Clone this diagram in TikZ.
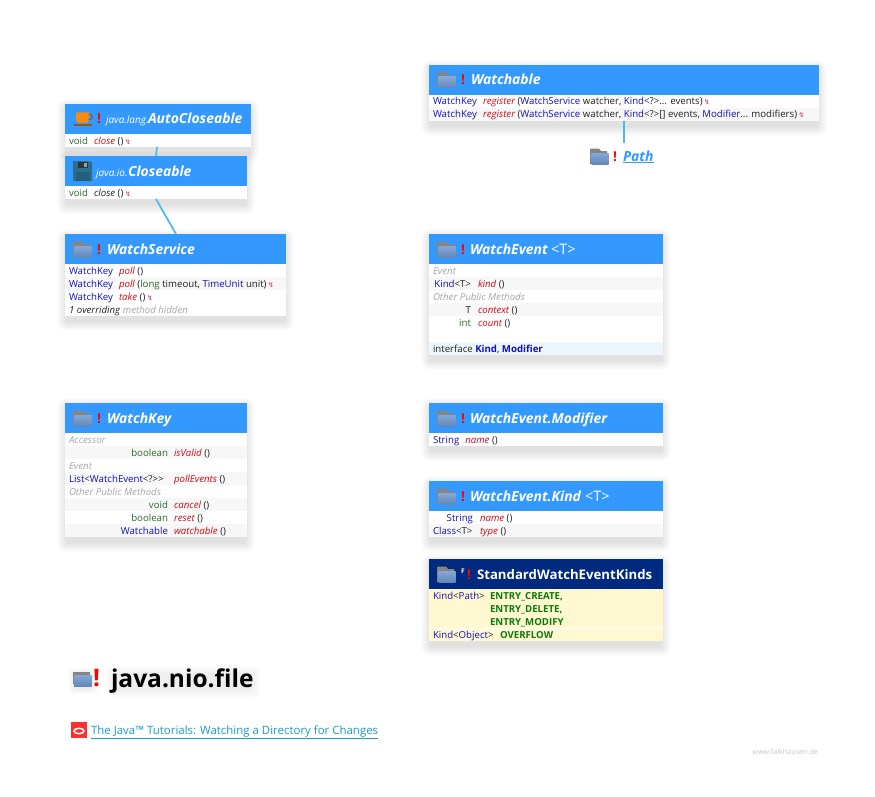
\documentclass[tikz,border=0pt]{standalone}
\usepackage{fontspec}
\setmainfont{Open Sans}
\newfontfamily\dv{DejaVu Sans}
\usetikzlibrary{calc}
\definecolor{hdr}{HTML}{3399FF}
\definecolor{navy}{HTML}{002A80}
\definecolor{typ}{HTML}{1010C0}
\definecolor{meth}{HTML}{CC0A14}
\definecolor{prim}{HTML}{2B6B2B}
\definecolor{txt}{HTML}{222222}
\definecolor{hid}{HTML}{A6A6A6}
\definecolor{rowbg}{HTML}{F7F7F7}
\definecolor{conn}{HTML}{4DB8EE}
\definecolor{cream}{HTML}{FFF8D0}
\definecolor{constc}{HTML}{0A7A0A}
\definecolor{ifbg}{HTML}{EEF6FD}
\definecolor{linkc}{HTML}{1C9DC9}
\definecolor{folderb}{HTML}{6E98CF}
\definecolor{folderd}{HTML}{858585}
\definecolor{floppy}{HTML}{2C6E8E}
\definecolor{cupc}{HTML}{F28C14}
\definecolor{cupd}{HTML}{8A5A1E}
\definecolor{oracle}{HTML}{FF3030}
\newcount\txc
\tikzset{
  classbody/.style={fill=white,draw=none,inner sep=0pt,outer sep=0pt,anchor=north west},
  headbar/.style={draw=none,inner sep=0pt,outer sep=0pt,anchor=north west},
  rowtext/.style={inner sep=0pt,outer sep=0pt,text=txt,font=\fontsize{9.65}{11}\selectfont},
  hdrtext/.style={inner sep=0pt,outer sep=0pt,text=white,anchor=base west,font=\fontsize{13.9}{15}\selectfont\bfseries\itshape},
  bang/.style={inner sep=0pt,outer sep=0pt,text=red,anchor=base west,font=\fontsize{13.5}{15}\selectfont\bfseries},
  connector/.style={draw=conn,line width=1.7pt},
}
\newcommand\ty[1]{\textcolor{typ}{#1}}
\newcommand\me[1]{\textcolor{meth}{\itshape #1}}
\newcommand\pr[1]{\textcolor{prim}{#1}}
\newcommand\bolt{\,\textcolor{meth!80}{\dv\fontsize{7}{7}\selectfont ↯}}
\newcommand\softshadow[4]{%
  \foreach \i in {1,...,10}{
    \fill[black,opacity=0.011,rounded corners=\i pt] (#1-\i+2,#2+5-\i) rectangle (#3+\i-2,#4+5+\i);
  }}
\newcommand\classbox[7][hdr]{% name x0 y0 x1 y1 title-macro
  \softshadow{#3}{#4}{#5}{#6}
  \pgfmathsetmacro\boxw{#5-#3}\pgfmathsetmacro\boxh{#6-#4}
  \node[classbody,minimum width=\boxw pt,minimum height=\boxh pt] (#2) at (#3,#4) {};
  \node[headbar,fill=#1,minimum width=\boxw pt,minimum height=30pt] (#2head) at (#3,#4) {};
  #7
}
\newcommand\rowbg[4]{\fill[#4] (#1,#3) rectangle (#2,#3+13);}
\newcommand\rr[3]{\global\advance\txc by 1 \node[rowtext,anchor=base east] (t\the\txc) at (#1,#2) {#3};}
\newcommand\rl[3]{\global\advance\txc by 1 \node[rowtext,anchor=base west] (t\the\txc) at (#1,#2) {#3};}
\newcommand\hl[3]{\global\advance\txc by 1 \node[hdrtext] (t\the\txc) at (#1,#2) {#3};}
\newcommand\bangat[2]{\global\advance\txc by 1 \node[bang] (t\the\txc) at (#1,#2) {!};}
\newcommand\foldericon[2]{%
  \begin{scope}[shift={(#1,#2)}]
    \fill[folderd] (0,1) -- (0,16) -- (17,16) -- (17,3) -- (11,3) -- (9,0.5) -- (1,0.5) -- cycle;
    \shade[top color=folderb!85!white,bottom color=folderb!90!black] (1.5,5) rectangle (18.5,16);
  \end{scope}}
\begin{document}
\begin{tikzpicture}[x=1pt,y=-1pt]
\useasboundingbox (0,0) rectangle (875,797);
\fill[white] (0,0) rectangle (875,797);

% ---- AutoCloseable
\classbox{auto}{65}{104}{251}{147}{%
  \begin{scope}[shift={(74,112)}]
    \fill[cupc] (2,0.5) -- (15,0.5) -- (15,9) .. controls (14,12) and (4,12) .. (2,9) -- cycle;
    \draw[cupd,line width=1pt] (15,2.5) .. controls (19.5,1.5) and (19.5,7.5) .. (14.5,8);
    \fill[cupd] (0,12) rectangle (18,14.5);
  \end{scope}
  \bangat{97}{124}
  \hl{106}{124}{\fontsize{10}{12}\selectfont\mdseries\itshape java.lang.}
  \hl{148}{124}{AutoCloseable}
}
\rl{69}{144}{\pr{void}\hspace{6pt}\me{close}\ ()\bolt}
% ---- Closeable
\classbox{closeable}{65}{156}{247}{199}{%
  \begin{scope}[shift={(73,161)}]
    \fill[floppy] (0,0) -- (17,0) -- (19,2) -- (19,20) -- (0,20) -- cycle;
    \fill[black!80] (5,0.5) rectangle (15,7);
    \fill[floppy!60!white] (11,1.5) rectangle (13.5,5.5);
    \fill[floppy!85!black] (2.5,11) rectangle (16.5,20);
  \end{scope}
  \hl{96}{176}{\fontsize{10}{12}\selectfont\mdseries\itshape java.io.}
  \hl{128}{176}{Closeable}
}
\rl{69}{196}{\pr{void}\hspace{6pt}\textit{close}\ ()\bolt}
% ---- WatchService
\classbox{watchservice}{65}{234}{286}{316}{%
  \foldericon{73}{241}\bangat{97}{254}\hl{107}{254}{WatchService}
}
\rowbg{65}{286}{277}{rowbg}
\rl{69}{274}{\ty{WatchKey}\hspace{6pt}\me{poll}\ ()}
\rl{69}{287}{\ty{WatchKey}\hspace{6pt}\me{poll}\ (\pr{long} timeout, \ty{TimeUnit} unit)\bolt}
\rl{69}{300}{\ty{WatchKey}\hspace{6pt}\me{take}\ ()\bolt}
\rl{69}{313}{\textit{1 overriding} \textcolor{hid}{\textit{method hidden}}}
% ---- Watchable
\classbox{watchable}{429}{65}{819}{121}{%
  \foldericon{437}{72}\bangat{461}{85}\hl{471}{85}{Watchable}
}
\rowbg{429}{819}{108}{rowbg}
\rl{433}{105}{\ty{WatchKey}\hspace{6pt}\me{register}\ (\ty{WatchService} watcher, \ty{Kind}<?>... events)\bolt}
\rl{433}{118}{\ty{WatchKey}\hspace{6pt}\me{register}\ (\ty{WatchService} watcher, \ty{Kind}<?>[] events, \ty{Modifier}... modifiers)\bolt}
% ---- Path
\foldericon{590}{148}
\bangat{613}{161}
\node[inner sep=0pt,outer sep=0pt,anchor=base west,text=hdr,font=\fontsize{14}{15}\selectfont\bfseries\itshape] (pathlabel) at (623,161) {\underline{Path}};
\coordinate (pathtop) at (624,143);
% ---- WatchEvent
\classbox{watchevent}{429}{234}{663}{355}{%
  \foldericon{437}{241}\bangat{461}{254}\hl{470}{254}{WatchEvent}
  \hl{551}{254}{\fontsize{14.5}{15}\selectfont\mdseries\upshape <T>}
}
\rowbg{429}{663}{277}{rowbg}
\rowbg{429}{663}{303}{rowbg}
\rowbg{429}{663}{342}{ifbg}
\rl{433}{274}{\textcolor{hid}{\textit{Event}}}
\rr{471}{287}{\ty{Kind}<T>}
\rl{478}{287}{\me{kind}\ ()}
\rl{433}{300}{\textcolor{hid}{\textit{Other Public Methods}}}
\rr{471}{313}{T}
\rl{478}{313}{\me{context}\ ()}
\rr{471}{326}{\pr{int}}
\rl{478}{326}{\me{count}\ ()}
\rl{433}{352}{interface \textcolor{typ}{\bfseries Kind}, \textcolor{typ}{\bfseries Modifier}}
% ---- WatchKey
\classbox{watchkey}{65}{403}{247}{537}{%
  \foldericon{73}{410}\bangat{97}{423}\hl{107}{423}{WatchKey}
}
\rowbg{65}{247}{446}{rowbg}
\rowbg{65}{247}{472}{rowbg}
\rowbg{65}{247}{498}{rowbg}
\rowbg{65}{247}{524}{rowbg}
\rl{69}{443}{\textcolor{hid}{\textit{Accessor}}}
\rr{168}{456}{\pr{boolean}}
\rl{174}{456}{\me{isValid}\ ()}
\rl{69}{469}{\textcolor{hid}{\textit{Event}}}
\rl{69}{482}{\ty{List}<\ty{WatchEvent}<?>{}>}
\rl{174}{482}{\me{pollEvents}\ ()}
\rl{69}{495}{\textcolor{hid}{\textit{Other Public Methods}}}
\rr{168}{508}{\pr{void}}
\rl{174}{508}{\me{cancel}\ ()}
\rr{168}{521}{\pr{boolean}}
\rl{174}{521}{\me{reset}\ ()}
\rr{168}{534}{\ty{Watchable}}
\rl{174}{534}{\me{watchable}\ ()}
% ---- Modifier
\classbox{modifier}{429}{403}{663}{446}{%
  \foldericon{437}{410}\bangat{461}{423}\hl{470}{423}{WatchEvent.Modifier}
}
\rl{433}{443}{\ty{String}\hspace{6pt}\me{name}\ ()}
% ---- Kind
\classbox{kind}{429}{481}{663}{537}{%
  \foldericon{437}{488}\bangat{461}{501}\hl{470}{501}{WatchEvent.Kind}
  \hl{585}{501}{\fontsize{14.5}{15}\selectfont\mdseries\upshape <T>}
}
\rowbg{429}{663}{524}{rowbg}
\rr{473}{521}{\ty{String}}
\rl{480}{521}{\me{name}\ ()}
\rl{433}{534}{\ty{Class}<T>}
\rl{480}{534}{\me{type}\ ()}
% ---- Standard
\classbox[navy]{standard}{429}{559}{663}{641}{%
  \foldericon{437}{566}
  \global\advance\txc by 1
  \node[inner sep=0pt,anchor=base west,text=white,font=\fontsize{6.5}{7}\selectfont\bfseries] (t\the\txc) at (461,573) {F};
  \bangat{467}{579}\hl{477}{579}{\fontsize{13.2}{15}\selectfont\upshape StandardWatchEventKinds}
}
\fill[cream] (429,589) rectangle (663,641);
\draw[white,line width=.7pt] (429,628) -- (663,628);
\rl{433}{599}{\ty{Kind}<\ty{Path}>}
\rl{490}{599}{\textcolor{constc}{\bfseries ENTRY\_CREATE,}}
\rl{490}{612}{\textcolor{constc}{\bfseries ENTRY\_DELETE,}}
\rl{490}{625}{\textcolor{constc}{\bfseries ENTRY\_MODIFY}}
\rl{433}{638}{\ty{Kind}<\ty{Object}>}
\rl{500}{638}{\textcolor{constc}{\bfseries OVERFLOW}}
% ---- Connectors
\draw[connector] ($(auto.south west)+(92,0)$) -- ($(closeable.north west)+(91,0)$);
\draw[connector] ($(closeable.south west)+(91,0)$) -- ($(watchservice.north west)+(111,0)$);
\draw[connector] ($(watchable.south west)+(195,0)$) -- (pathtop);
% ---- Title
\foreach \i in {1,...,8}{
  \fill[black,opacity=0.007,rounded corners=6pt] (114-\i,674-\i) rectangle (252+\i,690+\i);
  \fill[black,opacity=0.012,rounded corners=4pt] (76-\i,676-\i) rectangle (90+\i,686+\i);
}
\begin{scope}[shift={(73,671)}]
  \fill[folderd] (0,.5) rectangle (17,13);
  \shade[top color=folderb!85!white,bottom color=folderb!90!black] (1,4) rectangle (18.5,15);
\end{scope}
\node[inner sep=0pt,outer sep=0pt,anchor=base west,text=red,font=\fontsize{24}{28}\selectfont\bfseries] (titlebang) at (93,686) {!};
\node[inner sep=0pt,outer sep=0pt,anchor=base west,text=black,font=\fontsize{24.5}{28}\selectfont\bfseries] (title) at (111,687) {java.nio.file};
% ---- Link
\fill[oracle] (71,722) rectangle (87,738);
\draw[white,line width=1.5pt] (79,731) ellipse [x radius=5,y radius=2.7];
\node[inner sep=0pt,outer sep=0pt,anchor=base west,text=linkc,font=\fontsize{11.45}{14}\selectfont] (tutorial) at (91,734) {\underline{The Java™ Tutorials: Watching a Directory for Changes}};
% ---- Credit
\node[inner sep=0pt,outer sep=0pt,anchor=base east,text=black!22,font=\fontsize{7.2}{8}\selectfont] (credit) at (818,754) {www.falkhausen.de};
\end{tikzpicture}
\end{document}
